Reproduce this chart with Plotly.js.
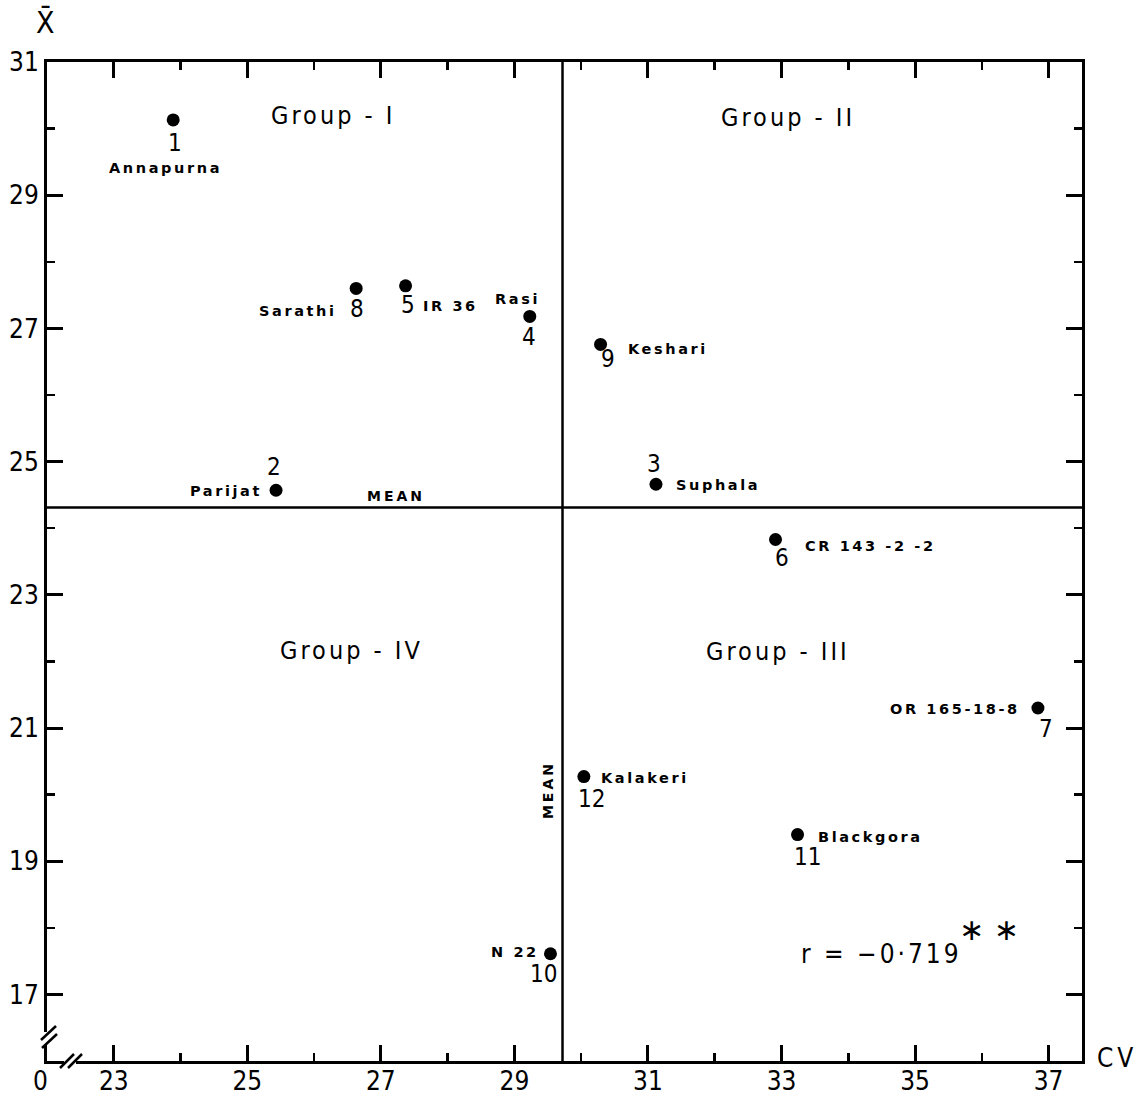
<!DOCTYPE html>
<html>
<head>
<meta charset="utf-8">
<script src="https://cdn.plot.ly/plotly-3.0.1.min.js"></script>
<style>
html,body{margin:0;padding:0;background:#fff;}
#chart{width:1142px;height:1095px;}
</style>
</head>
<body>
<div id="chart"></div>
<script>
// ---- Data ----
const varietyNo = [1, 2, 3, 4, 5, 6, 7, 8, 9, 10, 11, 12];
const varietyName = ['Annapurna', 'Parijat', 'Suphala', 'Rasi', 'IR 36', 'CR 143 -2 -2', 'OR 165-18-8', 'Sarathi', 'Keshari', 'N 22', 'Blackgora', 'Kalakeri'];
const cvValues = [23.89, 25.43, 31.12, 29.23, 27.37, 32.91, 36.84, 26.63, 30.29, 29.54, 33.24, 30.04];
const meanValues = [30.13, 24.57, 24.66, 27.18, 27.64, 23.83, 21.30, 27.60, 26.76, 17.61, 19.40, 20.27];
const grandMeanCV = 29.72;
const grandMeanX = 24.31;
const groupLabels = ['Group - I', 'Group - II', 'Group - III', 'Group - IV'];
const correlationText = 'r = \u22120\u00b7719';

// ---- Label placement (pixel offsets from each point; dy positive = down) ----
const numOffset = {
  1: [2, 23], 2: [-2, -23], 3: [-2, -20], 4: [-1, 21], 5: [2, 19], 6: [6, 18],
  7: [8, 21], 8: [1, 21], 9: [7, 15], 10: [-7, 20], 11: [10, 22], 12: [8, 22]
};
const nameOffset = {
  1: [-8, 48, 'center'], 2: [-12, 1, 'right'], 3: [18, 1, 'left'], 4: [-12, -17, 'center'],
  5: [15, 20, 'left'], 6: [27, 6, 'left'], 7: [-16, 1, 'right'], 8: [-17, 23, 'right'],
  9: [25, 5, 'left'], 10: [-9, -2, 'right'], 11: [18, 2, 'left'], 12: [15, 1, 'left']
};
const groupPos = [[26.29, 30.19], [33.09, 30.16], [32.94, 22.15], [26.56, 22.17]];

const PL = 47, PR = 1082, PT = 62, PB = 1061;
function px2paperX(p) { return (p - PL) / (PR - PL); }
function px2paperY(p) { return (PB - p) / (PB - PT); }

const condensed = '"DejaVu Sans Condensed", "DejaVu Sans", sans-serif';
const boldFont = '"DejaVu Sans", sans-serif';

function spaced(t, s) { return '<span style="letter-spacing:' + s + 'px">' + t + '</span>'; }

const annotations = [];
varietyNo.forEach((n, i) => {
  const no = numOffset[n];
  annotations.push({
    x: cvValues[i], y: meanValues[i], xref: 'x', yref: 'y',
    text: String(n), showarrow: false, xshift: no[0], yshift: -no[1],
    font: {family: condensed, size: 24, color: '#000'}, xanchor: 'center', yanchor: 'middle'
  });
  const nm = nameOffset[n];
  annotations.push({
    x: cvValues[i], y: meanValues[i], xref: 'x', yref: 'y',
    text: '<b>' + spaced(varietyName[i], 2.6) + '</b>', showarrow: false, xshift: nm[0], yshift: -nm[1],
    font: {family: boldFont, size: 14.5, color: '#000'}, xanchor: nm[2], yanchor: 'middle'
  });
});
groupLabels.forEach((g, i) => {
  annotations.push({
    x: groupPos[i][0], y: groupPos[i][1], xref: 'x', yref: 'y', text: spaced(g, 3), showarrow: false,
    font: {family: condensed, size: 25, color: '#000'}, xanchor: 'center', yanchor: 'middle'
  });
});
// MEAN labels
annotations.push({x: 27.22, y: grandMeanX, xref: 'x', yref: 'y', yshift: 12, text: '<b>' + spaced('MEAN', 3) + '</b>',
  showarrow: false, font: {family: boldFont, size: 14, color: '#000'}, xanchor: 'center', yanchor: 'middle'});
annotations.push({x: grandMeanCV, y: 20.06, xref: 'x', yref: 'y', xshift: -15, text: '<b>' + spaced('MEAN', 3) + '</b>',
  textangle: -90, showarrow: false, font: {family: boldFont, size: 14, color: '#000'}, xanchor: 'center', yanchor: 'middle'});
// correlation
annotations.push({x: 34.50, y: 17.60, xref: 'x', yref: 'y', text: spaced(correlationText, 3), showarrow: false,
  font: {family: condensed, size: 26, color: '#000'}, xanchor: 'center', yanchor: 'middle'});
annotations.push({x: 36.11, y: 17.97, xref: 'x', yref: 'y', text: '\u2217 \u2217', showarrow: false,
  font: {family: boldFont, size: 30, color: '#000'}, xanchor: 'center', yanchor: 'middle'});
// axis titles and origin label
annotations.push({x: px2paperX(45), y: px2paperY(22), xref: 'paper', yref: 'paper', text: 'X\u0304', showarrow: false,
  font: {family: condensed, size: 30, color: '#000'}, xanchor: 'center', yanchor: 'middle'});
annotations.push({x: px2paperX(1117), y: px2paperY(1058), xref: 'paper', yref: 'paper', text: spaced('CV', 4), showarrow: false,
  font: {family: condensed, size: 26, color: '#000'}, xanchor: 'center', yanchor: 'middle'});
annotations.push({x: px2paperX(40), y: px2paperY(1081), xref: 'paper', yref: 'paper', text: '0', showarrow: false,
  font: {family: condensed, size: 26, color: '#000'}, xanchor: 'center', yanchor: 'middle'});

function seg(x0, y0, x1, y1) {
  return {type: 'line', xref: 'paper', yref: 'paper', x0: px2paperX(x0), y0: px2paperY(y0),
    x1: px2paperX(x1), y1: px2paperY(y1), line: {color: '#000', width: 2.5}};
}
const shapes = [
  {type: 'line', xref: 'x', yref: 'paper', x0: grandMeanCV, x1: grandMeanCV, y0: 0, y1: 1, line: {color: '#000', width: 2.5}},
  {type: 'line', xref: 'paper', yref: 'y', x0: 0, x1: 1, y0: grandMeanX, y1: grandMeanX, line: {color: '#000', width: 2.5}},
  // axis break marks
  {type: 'rect', xref: 'paper', yref: 'paper', x0: px2paperX(40), x1: px2paperX(54), y0: px2paperY(1044), y1: px2paperY(1032), fillcolor: '#fff', line: {width: 0}},
  seg(41, 1040, 56, 1026), seg(42, 1048, 57, 1034),
  {type: 'rect', xref: 'paper', yref: 'paper', x0: px2paperX(64), x1: px2paperX(76), y0: px2paperY(1066), y1: px2paperY(1056), fillcolor: '#fff', line: {width: 0}},
  seg(60, 1068, 74, 1054), seg(68, 1068, 82, 1054)
];

const trace = {
  x: cvValues, y: meanValues, mode: 'markers', type: 'scatter',
  marker: {color: '#000', size: 13}, hoverinfo: 'skip', cliponaxis: false
};

const axisCommon = {
  showgrid: false, zeroline: false, showline: true, linecolor: '#000', linewidth: 3,
  ticks: 'inside', ticklen: 16, tickwidth: 3, tickcolor: '#000', mirror: 'ticks',
  tickfont: {family: condensed, size: 26, color: '#000'},
  minor: {dtick: 1, ticks: 'inside', ticklen: 8, tickwidth: 2.5, tickcolor: '#000'}
};

const layout = {
  width: 1142, height: 1095,
  margin: {l: PL, r: 1142 - PR, t: PT, b: 1095 - PB, pad: 0},
  paper_bgcolor: '#fff', plot_bgcolor: '#fff', showlegend: false,
  xaxis: Object.assign({}, axisCommon, {range: [22, 37.5], tick0: 23, dtick: 2, ticklabelstandoff: -5}),
  yaxis: Object.assign({}, axisCommon, {range: [16, 31], tick0: 17, dtick: 2}),
  annotations: annotations, shapes: shapes
};

Plotly.newPlot('chart', [trace], layout, {staticPlot: true});
</script>
</body>
</html>
